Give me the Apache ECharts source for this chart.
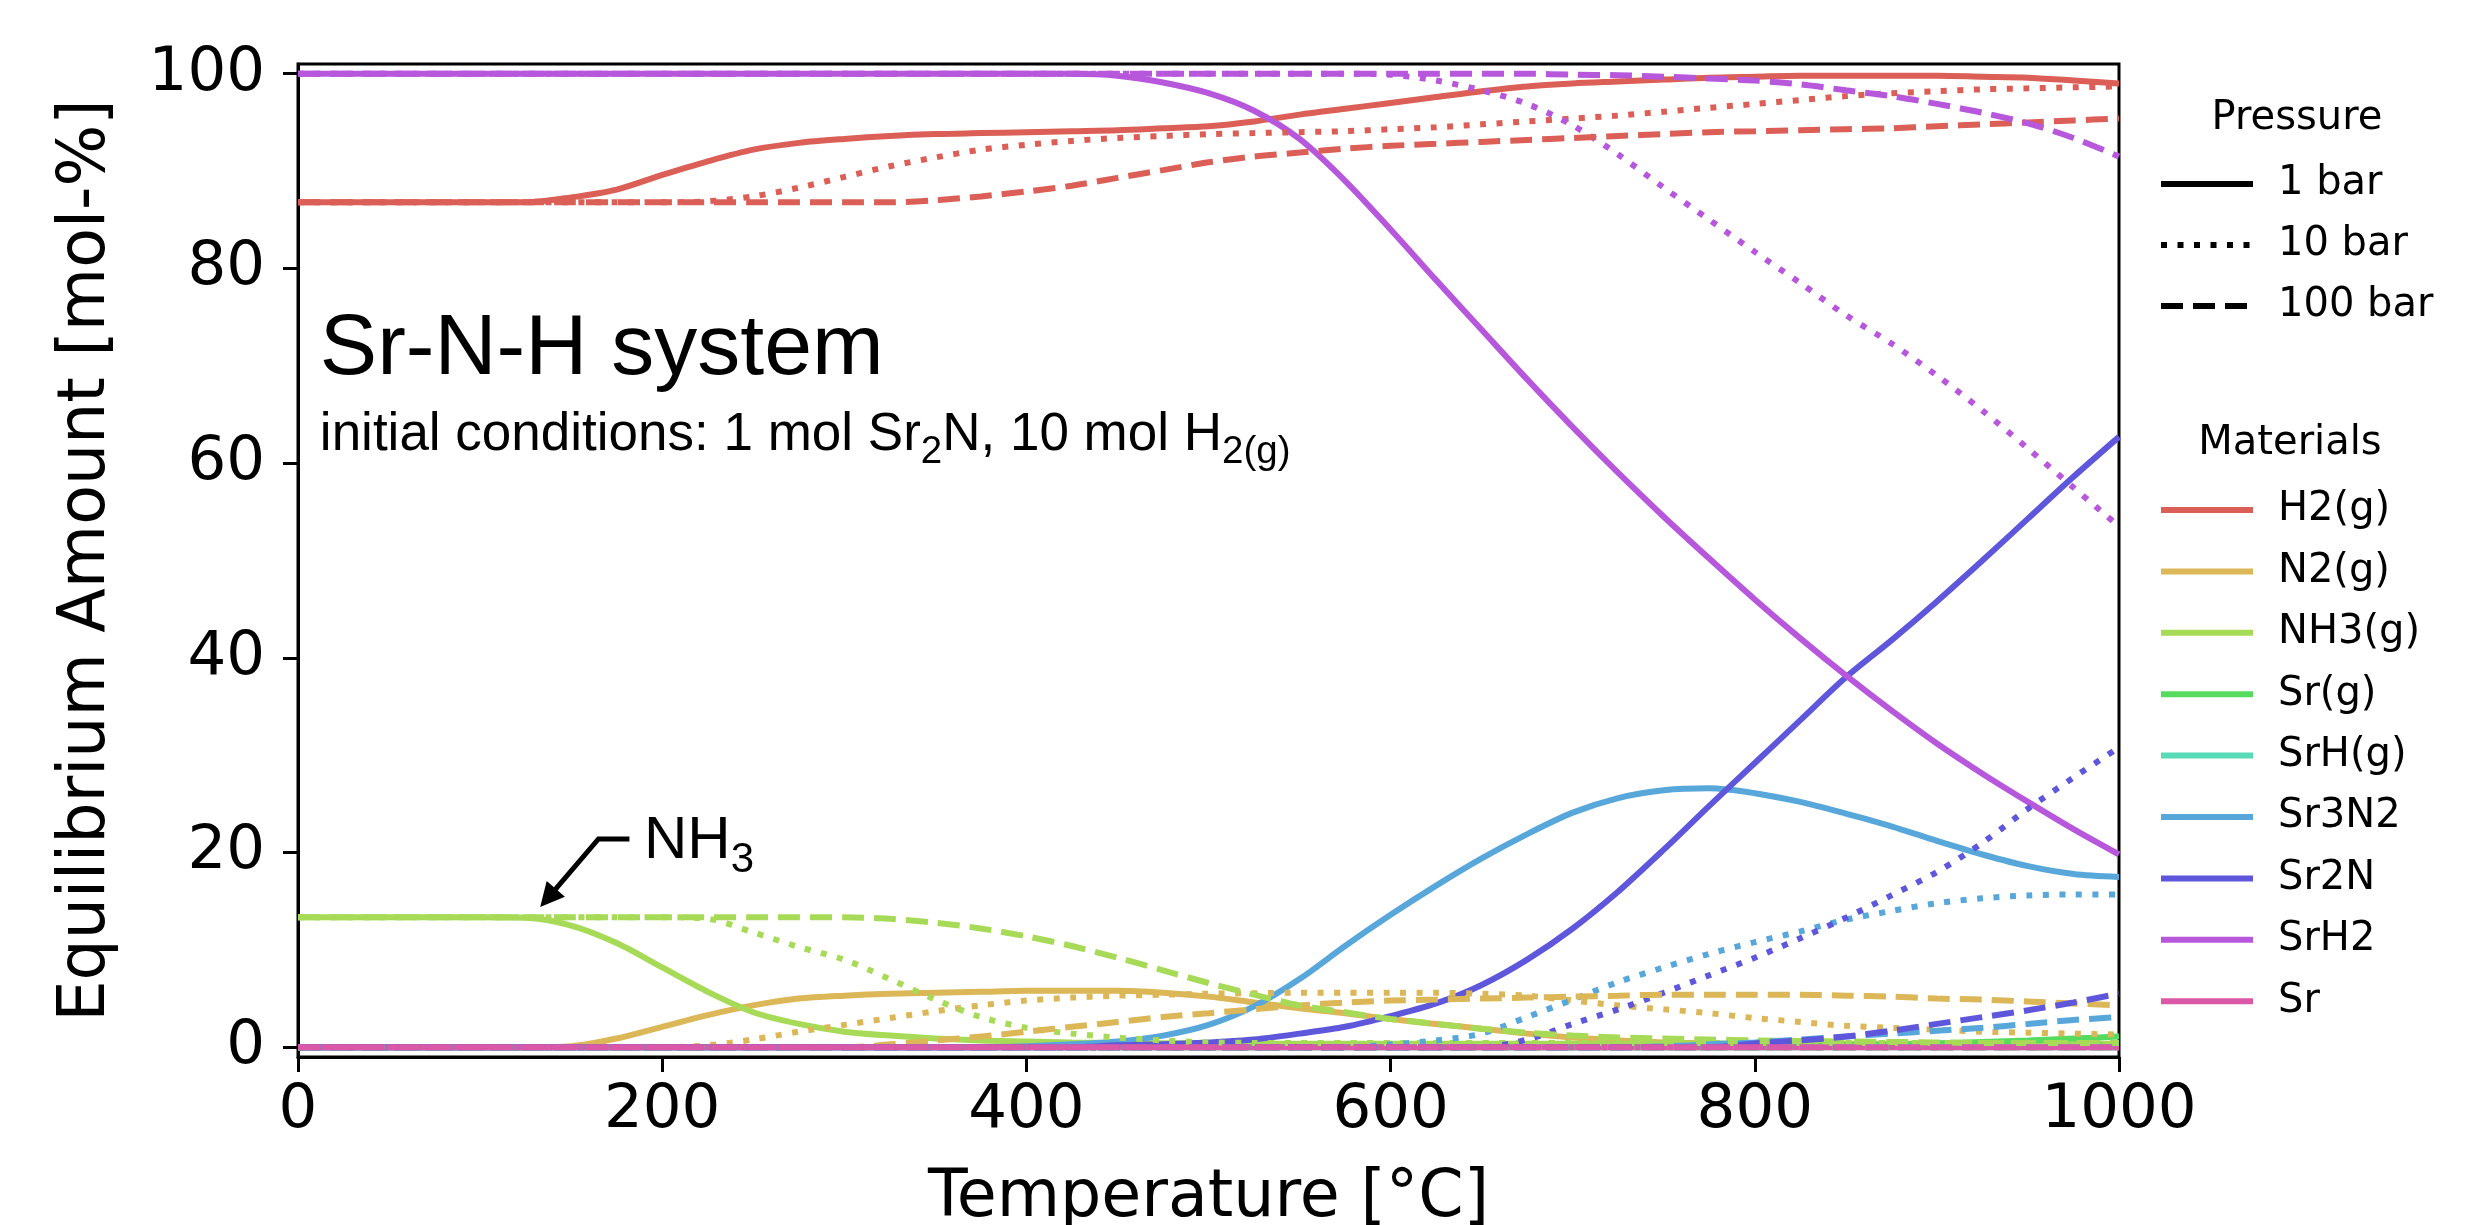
<!DOCTYPE html>
<html><head><meta charset="utf-8">
<script src="https://cdn.jsdelivr.net/npm/echarts@6/dist/echarts.min.js"></script>
<style>html,body{margin:0;padding:0;background:#fff}#c{width:2487px;height:1225px}</style>
</head><body><div id="c"></div>
<script>
// ---------- data ----------
const temps = [0,25,50,75,100,125,150,175,200,225,250,275,300,325,350,375,400,425,450,475,500,525,550,575,600,625,650,675,700,725,750,775,800,825,850,875,900,925,950,975,1000];
const materials = ['H2(g)','N2(g)','NH3(g)','Sr(g)','SrH(g)','Sr3N2','Sr2N','SrH2','Sr'];
const pressures = ['1 bar','10 bar','100 bar'];
const xTicks = [0,200,400,600,800,1000];
const yTicks = [0,20,40,60,80,100];

const h2g_1   = [86.8,86.8,86.8,86.8,86.8,86.8,87.3,88.1,89.6,91.0,92.2,92.9,93.3,93.6,93.8,93.9,94.0,94.1,94.2,94.4,94.6,95.1,95.8,96.4,97.0,97.6,98.2,98.7,99.0,99.2,99.4,99.6,99.7,99.8,99.8,99.8,99.8,99.7,99.6,99.3,99.0];
const h2g_10  = [86.8,86.8,86.8,86.8,86.8,86.8,86.8,86.8,86.8,86.9,87.4,88.3,89.4,90.5,91.4,92.2,92.7,93.1,93.4,93.6,93.8,93.9,94.0,94.1,94.3,94.5,94.8,95.1,95.4,95.7,96.1,96.5,96.9,97.3,97.7,98.0,98.2,98.4,98.5,98.6,98.7];
const h2g_100 = [86.8,86.8,86.8,86.8,86.8,86.8,86.8,86.8,86.8,86.8,86.8,86.8,86.8,86.8,87.0,87.4,87.9,88.5,89.3,90.1,90.9,91.5,91.9,92.3,92.6,92.8,93.0,93.2,93.4,93.6,93.8,94.0,94.1,94.2,94.3,94.4,94.6,94.8,95.0,95.2,95.4];

const n2g_1   = [0,0,0,0,0,0,0.1,0.9,2.1,3.3,4.3,5.0,5.3,5.5,5.6,5.7,5.8,5.8,5.8,5.6,5.2,4.6,4.0,3.5,2.9,2.4,1.9,1.4,1.0,0.7,0.5,0.4,0.3,0.25,0.2,0.15,0.1,0.1,0.1,0.1,0.1];
const n2g_10  = [0,0,0,0,0,0,0,0,0,0.2,0.8,1.6,2.3,3.0,3.7,4.3,4.8,5.1,5.3,5.4,5.5,5.55,5.6,5.6,5.6,5.6,5.5,5.3,4.8,4.3,3.9,3.5,3.0,2.6,2.2,2.0,1.8,1.6,1.5,1.4,1.3];
const n2g_100 = [0,0,0,0,0,0,0,0,0,0,0,0,0,0.3,0.7,1.1,1.6,2.1,2.6,3.1,3.5,3.9,4.3,4.6,4.8,4.9,5.0,5.1,5.2,5.3,5.4,5.4,5.4,5.4,5.3,5.2,5.0,4.9,4.7,4.5,4.3];

const nh3_1   = [13.35,13.35,13.35,13.35,13.35,13.3,12.5,10.7,8.2,5.7,3.6,2.4,1.6,1.2,0.9,0.7,0.6,0.5,0.45,0.4,0.4,0.35,0.35,0.35,0.35,0.35,0.35,0.35,0.35,0.35,0.35,0.35,0.35,0.35,0.35,0.35,0.35,0.35,0.35,0.35,0.35];
const nh3_10  = [13.35,13.35,13.35,13.35,13.35,13.35,13.35,13.35,13.35,13.2,11.8,10.3,9.0,7.0,4.9,3.1,2.0,1.4,1.0,0.7,0.5,0.45,0.45,0.45,0.45,0.45,0.45,0.45,0.45,0.45,0.45,0.45,0.45,0.45,0.45,0.45,0.45,0.45,0.45,0.45,0.45];
const nh3_100 = [13.35,13.35,13.35,13.35,13.35,13.35,13.35,13.35,13.35,13.35,13.35,13.35,13.35,13.2,12.8,12.2,11.4,10.4,9.2,7.9,6.6,5.4,4.3,3.6,2.9,2.4,1.9,1.5,1.2,1.0,0.9,0.8,0.7,0.65,0.6,0.55,0.5,0.45,0.45,0.45,0.45];

const srg_1   = [0,0,0,0,0,0,0,0,0,0,0,0,0,0,0,0,0,0,0,0,0,0,0,0,0,0,0,0,0,0,0,0,0,0.1,0.2,0.3,0.4,0.55,0.7,0.9,1.1];
const srg_10  = [0,0,0,0,0,0,0,0,0,0,0,0,0,0,0,0,0,0,0,0,0,0,0,0,0,0,0,0,0,0,0,0,0,0,0,0,0,0.05,0.1,0.15,0.2];
const srg_100 = [0,0,0,0,0,0,0,0,0,0,0,0,0,0,0,0,0,0,0,0,0,0,0,0,0,0,0,0,0,0,0,0,0,0,0,0,0,0,0,0,0];

const srhg_1   = [0,0,0,0,0,0,0,0,0,0,0,0,0,0,0,0,0,0,0,0,0,0,0,0,0,0,0,0,0,0,0,0,0,0,0,0,0,0,0,0,0];
const srhg_10  = [0,0,0,0,0,0,0,0,0,0,0,0,0,0,0,0,0,0,0,0,0,0,0,0,0,0,0,0,0,0,0,0,0,0,0,0,0,0,0,0,0];
const srhg_100 = [0,0,0,0,0,0,0,0,0,0,0,0,0,0,0,0,0,0,0,0,0,0,0,0,0,0,0,0,0,0,0,0,0,0,0,0,0,0,0,0,0];

const sr3n2_1   = [0,0,0,0,0,0,0,0,0,0,0,0,0,0,0,0,0.1,0.3,0.6,1.2,2.3,4.2,7.0,10.4,13.6,16.6,19.4,21.9,24.1,25.6,26.4,26.6,26.1,25.2,24.0,22.7,21.2,19.8,18.6,17.8,17.5];
const sr3n2_10  = [0,0,0,0,0,0,0,0,0,0,0,0,0,0,0,0,0,0,0,0,0,0,0,0,0.3,0.7,1.4,3.1,4.9,6.7,8.2,9.6,10.8,11.9,13.1,14.0,14.8,15.3,15.6,15.7,15.7];
const sr3n2_100 = [0,0,0,0,0,0,0,0,0,0,0,0,0,0,0,0,0,0,0,0,0,0,0,0,0,0,0,0,0,0,0.1,0.3,0.5,0.8,1.1,1.4,1.7,2.0,2.4,2.8,3.1];

const sr2n_1   = [0,0,0,0,0,0,0,0,0,0,0,0,0,0,0,0,0,0,0.2,0.3,0.5,0.8,1.4,2.1,3.2,4.5,6.4,9.0,12.2,16.0,20.3,24.8,29.2,33.6,38.0,41.8,45.8,50.0,54.3,58.6,62.7];
const sr2n_10  = [0,0,0,0,0,0,0,0,0,0,0,0,0,0,0,0,0,0,0,0,0,0,0,0,0,0,0,0.8,2.4,3.9,5.6,7.4,9.2,11.2,13.3,15.6,18.0,21.0,24.5,27.7,30.8];
const sr2n_100 = [0,0,0,0,0,0,0,0,0,0,0,0,0,0,0,0,0,0,0,0,0,0,0,0,0,0,0,0,0,0,0,0,0.4,0.7,1.1,1.7,2.4,3.1,3.8,4.6,5.5];

const srh2_1   = [100,100,100,100,100,100,100,100,100,100,100,100,100,100,100,100,100,100,99.8,99.1,98.0,96.2,93.3,89.0,84.0,78.8,73.7,68.6,63.7,59.0,54.5,50.2,46.0,42.0,38.2,34.6,31.2,28.1,25.2,22.4,19.8];
const srh2_10  = [100,100,100,100,100,100,100,100,100,100,100,100,100,100,100,100,100,100,100,100,100,100,100,100,99.9,99.3,98.3,96.9,94.7,91.7,88.3,85.0,81.7,78.5,75.2,72.3,69.0,65.4,61.5,57.5,53.5];
const srh2_100 = [100,100,100,100,100,100,100,100,100,100,100,100,100,100,100,100,100,100,100,100,100,100,100,100,100,100,100,100,99.9,99.85,99.7,99.5,99.3,98.9,98.3,97.7,96.9,96.0,94.9,93.4,91.5];

const sr_1   = [0,0,0,0,0,0,0,0,0,0,0,0,0,0,0,0,0,0,0,0,0,0,0,0,0,0,0,0,0,0,0,0,0,0,0,0,0,0,0,0,0];
const sr_10  = [0,0,0,0,0,0,0,0,0,0,0,0,0,0,0,0,0,0,0,0,0,0,0,0,0,0,0,0,0,0,0,0,0,0,0,0,0,0,0,0,0];
const sr_100 = [0,0,0,0,0,0,0,0,0,0,0,0,0,0,0,0,0,0,0,0,0,0,0,0,0,0,0,0,0,0,0,0,0,0,0,0,0,0,0,0,0];

// annotation anchors in data coordinates [temperature, amount]
const nh3ArrowTip   = [133, 14.4];
const nh3ArrowElbow = [165, 21.4];
const nh3ArrowStart = [182, 21.4];
const nh3LabelPos   = [190, 21.15];
const systemLabelPos  = [12, 71.6];
const initialLabelPos = [12, 62.8];

// ---------- chart ----------
const seriesValues = {
  'H2(g)': [h2g_1, h2g_10, h2g_100],
  'N2(g)': [n2g_1, n2g_10, n2g_100],
  'NH3(g)': [nh3_1, nh3_10, nh3_100],
  'Sr(g)': [srg_1, srg_10, srg_100],
  'SrH(g)': [srhg_1, srhg_10, srhg_100],
  'Sr3N2': [sr3n2_1, sr3n2_10, sr3n2_100],
  'Sr2N': [sr2n_1, sr2n_10, sr2n_100],
  'SrH2': [srh2_1, srh2_10, srh2_100],
  'Sr': [sr_1, sr_10, sr_100]
};
const colors = ['#db5f57','#dbb757','#a7db57','#57db5f','#57dbb7','#57a7db','#5f57db','#b757db','#db57a7'];
const dashTypes = ['solid', [6, 10.5], [22, 10]];
const LW = 6;

const series = [];
pressures.forEach((p, pi) => {
  materials.forEach((m, mi) => {
    const vals = seriesValues[m][pi];
    series.push({
      type: 'line',
      name: pi === 0 ? m : m + ' ' + p,
      data: temps.map((t, i) => [t, vals[i]]),
      symbol: 'none', showSymbol: false,
      smooth: 0.3,
      lineStyle: { color: colors[mi], width: LW, type: dashTypes[pi] },
      itemStyle: { color: colors[mi] },
      emphasis: { disabled: true },
      silent: true
    });
  });
});
pressures.forEach((p, pi) => {
  series.push({
    type: 'line', name: p, data: [], symbol: 'none',
    lineStyle: { color: '#000', width: LW, type: dashTypes[pi] },
    itemStyle: { color: '#000' }, silent: true
  });
});

const FONT = 'DejaVu Sans';
const legendCommon = {
  orient: 'vertical', left: 2153, itemWidth: 92, itemHeight: 20,
  selectedMode: false,
  textStyle: { fontFamily: FONT, fontSize: 40, lineHeight: 40, color: '#000', padding: [0, 0, 0, 20] },
  itemStyle: { color: 'rgba(0,0,0,0)', borderWidth: 0, opacity: 0 },
  lineStyle: { width: LW }
};

const chart = echarts.init(document.getElementById('c'), null, { renderer: 'canvas' });
chart.setOption({
  animation: false,
  backgroundColor: '#fff',
  grid: { left: 298, right: 368, top: 64, bottom: 168, show: true, borderColor: '#000', borderWidth: 3, backgroundColor: 'transparent', containLabel: false, outerBoundsMode: 'none' },
  xAxis: {
    type: 'value', min: 0, max: 1000, interval: 200,
    name: 'Temperature [°C]', nameLocation: 'middle', nameGap: 110,
    nameTextStyle: { fontFamily: FONT, fontSize: 65, color: '#000' },
    axisLine: { onZero: false, lineStyle: { color: '#000', width: 3 } },
    axisTick: { show: true, inside: false, length: 15, lineStyle: { color: '#000', width: 3 } },
    axisLabel: { fontFamily: FONT, fontSize: 61, color: '#000', margin: 24, customValues: xTicks, formatter: (v) => String(v) },
    splitLine: { show: false }
  },
  yAxis: {
    type: 'value', min: -1, max: 101,
    name: 'Equilibrium Amount [mol-%]', nameLocation: 'middle', nameGap: 178,
    nameTextStyle: { fontFamily: FONT, fontSize: 65, color: '#000' },
    axisLine: { onZero: false, lineStyle: { color: '#000', width: 3 } },
    axisTick: { show: true, inside: false, length: 15, lineStyle: { color: '#000', width: 3 }, customValues: yTicks },
    axisLabel: { fontFamily: FONT, fontSize: 61, color: '#000', margin: 33, customValues: yTicks, formatter: (v) => String(v) },
    splitLine: { show: false }
  },
  legend: [
    Object.assign({}, legendCommon, { data: pressures, top: 159, itemGap: 21 }),
    Object.assign({}, legendCommon, { data: materials, top: 485, itemGap: 21.4 })
  ],
  series: series
});

const toPx = (p) => chart.convertToPixel({ gridIndex: 0 }, p);
const tip = toPx(nh3ArrowTip), elbow = toPx(nh3ArrowElbow), start = toPx(nh3ArrowStart);
const nh3L = toPx(nh3LabelPos), sysL = toPx(systemLabelPos), iniL = toPx(initialLabelPos);
const dx = tip[0] - elbow[0], dy = tip[1] - elbow[1];
const len = Math.hypot(dx, dy), ux = dx / len, uy = dy / len;
const headLen = 24, headHalf = 12;
const base = [tip[0] - ux * headLen, tip[1] - uy * headLen];
const perp = [-uy, ux];

chart.setOption({
  graphic: [
    { type: 'polyline', silent: true, z: 100,
      shape: { points: [start, elbow, [base[0] + ux * 2, base[1] + uy * 2]] },
      style: { stroke: '#000', lineWidth: 5, fill: null } },
    { type: 'polygon', silent: true, z: 100,
      shape: { points: [tip, [base[0] + perp[0] * headHalf, base[1] + perp[1] * headHalf], [base[0] - perp[0] * headHalf, base[1] - perp[1] * headHalf]] },
      style: { fill: '#000' } },
    { type: 'text', silent: true, z: 100, x: nh3L[0], y: nh3L[1],
      style: { text: '{a|NH}{b|3}', align: 'left', verticalAlign: 'middle',
        rich: { a: { fontFamily: 'Liberation Sans', fontSize: 60, lineHeight: 80, verticalAlign: 'middle', fill: '#000' },
                b: { fontFamily: 'Liberation Sans', fontSize: 42, lineHeight: 36, verticalAlign: 'bottom', fill: '#000' } } } },
    { type: 'text', silent: true, z: 100, x: sysL[0], y: sysL[1],
      style: { text: 'Sr-N-H system', fontFamily: 'Liberation Sans', fontSize: 86, fill: '#000', align: 'left', verticalAlign: 'middle' } },
    { type: 'text', silent: true, z: 100, x: iniL[0], y: iniL[1],
      style: { text: '{a|initial conditions: 1 mol Sr}{b|2}{a|N, 10 mol H}{b|2(g)}', align: 'left', verticalAlign: 'middle',
        rich: { a: { fontFamily: 'Liberation Sans', fontSize: 53, lineHeight: 72, verticalAlign: 'middle', fill: '#000' },
                b: { fontFamily: 'Liberation Sans', fontSize: 38.5, lineHeight: 40, verticalAlign: 'bottom', fill: '#000' } } } },
    { type: 'text', silent: true, z: 100, x: 2297, y: 119,
      style: { text: 'Pressure', fontFamily: FONT, fontSize: 40, fill: '#000', align: 'center', verticalAlign: 'middle' } },
    { type: 'text', silent: true, z: 100, x: 2290, y: 444,
      style: { text: 'Materials', fontFamily: FONT, fontSize: 40, fill: '#000', align: 'center', verticalAlign: 'middle' } }
  ]
});
</script>
</body></html>
